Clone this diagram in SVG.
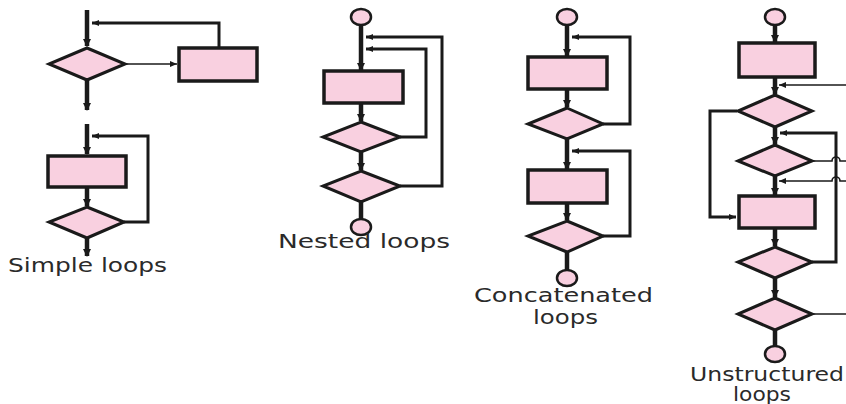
<svg xmlns="http://www.w3.org/2000/svg" width="846" height="404" viewBox="0 0 846 404">
<style>
.shape{fill:#f9d0e0;stroke:#1a1a1a;stroke-width:3}
.box{fill:#f9d0e0;stroke:#1a1a1a;stroke-width:3.5}
.term{fill:#f9d0e0;stroke:#1a1a1a;stroke-width:2.5}
.thick{fill:none;stroke:#1a1a1a;stroke-width:4.5}
.loop{fill:none;stroke:#1a1a1a;stroke-width:3}
.thin{fill:none;stroke:#1a1a1a;stroke-width:1.6}
.lbl{font-family:"DejaVu Sans","Liberation Sans",sans-serif;font-size:19px;fill:#2a2a2a}
</style>
<defs>
<marker id="ah" markerUnits="userSpaceOnUse" markerWidth="9" markerHeight="9" refX="7" refY="4.5" orient="auto">
<path d="M0,0.5 L8,4.5 L0,8.5 Z" fill="#1a1a1a"/>
</marker>
<marker id="ahs" markerUnits="userSpaceOnUse" markerWidth="8" markerHeight="8" refX="7" refY="4" orient="auto">
<path d="M0,1 L7,4 L0,7 Z" fill="#1a1a1a"/>
</marker>
</defs>

<g id="connectors">
<!-- simple loops -->
<path class="thick" d="M87,10 V46" marker-end="url(#ah)"/>
<path class="thin" d="M125,64 H177" marker-end="url(#ahs)"/>
<path class="loop" d="M219,48 V23 H92" marker-end="url(#ahs)"/>
<path class="thick" d="M87,80 V110" marker-end="url(#ah)"/>
<path class="thick" d="M87,124 V154" marker-end="url(#ah)"/>
<path class="loop" d="M124,222 H148 V136 H92" marker-end="url(#ahs)"/>
<path class="thick" d="M87,187 V206" marker-end="url(#ah)"/>
<path class="thick" d="M87,238 V256" marker-end="url(#ah)"/>
<!-- nested loops -->
<path class="thick" d="M361,25 V70" marker-end="url(#ah)"/>
<path class="loop" d="M400,186 H442 V37 H366" marker-end="url(#ahs)"/>
<path class="loop" d="M400,137 H426 V49 H366" marker-end="url(#ahs)"/>
<path class="thick" d="M361,103 V121" marker-end="url(#ah)"/>
<path class="thick" d="M361,152 V170" marker-end="url(#ah)"/>
<path class="thick" d="M361,202 V219"/>
<!-- concatenated loops -->
<path class="thick" d="M567,25 V56" marker-end="url(#ah)"/>
<path class="loop" d="M603,124 H630 V37 H572" marker-end="url(#ahs)"/>
<path class="thick" d="M567,89 V107" marker-end="url(#ah)"/>
<path class="thick" d="M567,139 V169" marker-end="url(#ah)"/>
<path class="loop" d="M603,236 H630 V151 H572" marker-end="url(#ahs)"/>
<path class="thick" d="M567,203 V220" marker-end="url(#ah)"/>
<path class="thick" d="M567,252 V270"/>
<!-- unstructured loops -->
<path class="thick" d="M775,25 V42" marker-end="url(#ah)"/>
<path class="thick" d="M775,77 V94" marker-end="url(#ah)"/>
<path class="thin" d="M846,85 H779" marker-end="url(#ahs)"/>
<path class="loop" d="M737,111 H710 V217 H736" marker-end="url(#ahs)"/>
<path class="thick" d="M775,127 V144" marker-end="url(#ah)"/>
<path class="loop" d="M812,262 H836 V133 H780" marker-end="url(#ahs)"/>
<path class="thin" d="M812,161 H832 A4,4 0 0 1 840,161 H846"/>
<path class="thin" d="M846,181 H840 A4,4 0 0 0 832,181 H779" marker-end="url(#ahs)"/>
<path class="thick" d="M775,176 V195" marker-end="url(#ah)"/>
<path class="thick" d="M775,228 V246" marker-end="url(#ah)"/>
<path class="thick" d="M775,278 V297" marker-end="url(#ah)"/>
<path class="thin" d="M812,314 H846"/>
<path class="thick" d="M775,330 V346"/>
</g>

<!-- Simple loops -->
<g id="s-diamond1"><polygon class="shape" points="87,48 125,64 87,80 49,64"/></g>
<g id="s-box1"><rect class="box" x="179" y="48" width="78" height="33"/></g>
<g id="s-box2"><rect class="box" x="48" y="156" width="78" height="31"/></g>
<g id="s-diamond2"><polygon class="shape" points="87,207 124,222 87,238 49,222"/></g>
<text class="lbl" x="8" y="272" textLength="159" lengthAdjust="spacingAndGlyphs">Simple loops</text>

<!-- Nested loops -->
<g id="n-start"><ellipse class="term" cx="361" cy="17" rx="10" ry="8"/></g>
<g id="n-box"><rect class="box" x="324" y="71" width="79" height="32"/></g>
<g id="n-diamond1"><polygon class="shape" points="361,122 400,137 361,152 323,137"/></g>
<g id="n-diamond2"><polygon class="shape" points="361,171 400,186 361,202 323,186"/></g>
<g id="n-end"><ellipse class="term" cx="361" cy="227" rx="10" ry="8"/></g>
<text class="lbl" x="278" y="248" textLength="172" lengthAdjust="spacingAndGlyphs">Nested loops</text>

<!-- Concatenated loops -->
<g id="c-start"><ellipse class="term" cx="567" cy="17" rx="10" ry="8"/></g>
<g id="c-box1"><rect class="box" x="528" y="57" width="79" height="32"/></g>
<g id="c-diamond1"><polygon class="shape" points="567,108 603,124 567,139 528,124"/></g>
<g id="c-box2"><rect class="box" x="528" y="170" width="79" height="33"/></g>
<g id="c-diamond2"><polygon class="shape" points="567,221 603,236 567,252 528,236"/></g>
<g id="c-end"><ellipse class="term" cx="567" cy="278" rx="10" ry="8"/></g>
<text class="lbl" x="474" y="302" textLength="179" lengthAdjust="spacingAndGlyphs">Concatenated</text>
<text class="lbl" x="533" y="324" textLength="65" lengthAdjust="spacingAndGlyphs">loops</text>

<!-- Unstructured loops -->
<g id="u-start"><ellipse class="term" cx="775" cy="17" rx="10" ry="8"/></g>
<g id="u-box1"><rect class="box" x="739" y="43" width="76" height="34"/></g>
<g id="u-diamond1"><polygon class="shape" points="775,95 812,111 775,127 738,111"/></g>
<g id="u-diamond2"><polygon class="shape" points="775,145 812,161 775,176 738,161"/></g>
<g id="u-box2"><rect class="box" x="739" y="196" width="76" height="32"/></g>
<g id="u-diamond3"><polygon class="shape" points="775,247 812,262 775,278 738,262"/></g>
<g id="u-diamond4"><polygon class="shape" points="775,298 812,314 775,330 738,314"/></g>
<g id="u-end"><ellipse class="term" cx="775" cy="354" rx="10" ry="8"/></g>
<text class="lbl" x="690" y="381" textLength="154" lengthAdjust="spacingAndGlyphs">Unstructured</text>
<text class="lbl" x="733" y="401" textLength="58" lengthAdjust="spacingAndGlyphs">loops</text>
</svg>
